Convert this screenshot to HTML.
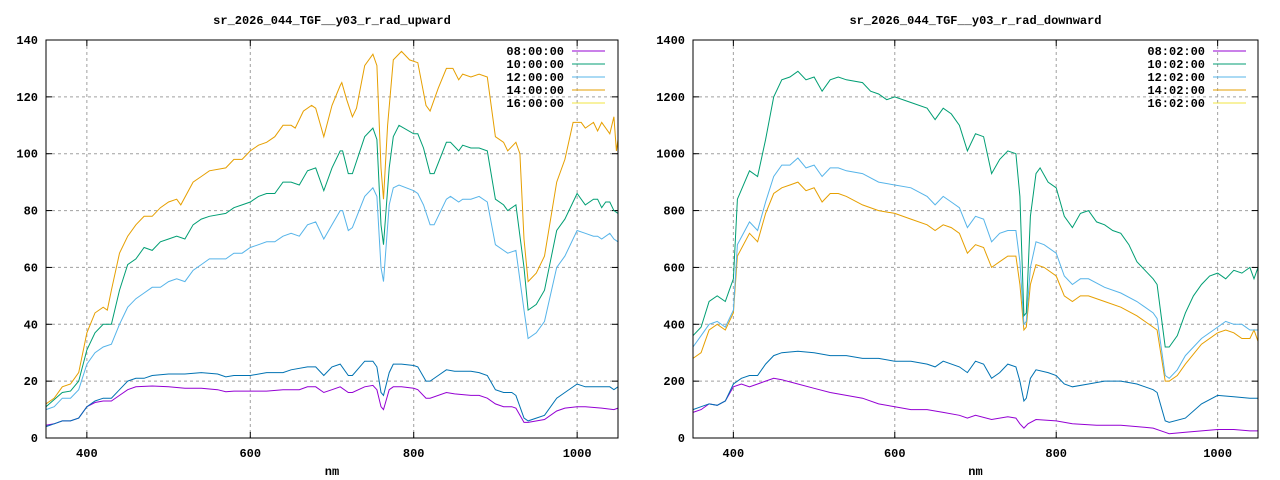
<!DOCTYPE html>
<html><head><meta charset="utf-8"><style>
body{margin:0;background:#fff}
svg{display:block}
text{font-family:"Liberation Mono","DejaVu Sans Mono",monospace;font-size:12px;font-weight:bold;fill:#000}
</style></head><body>
<svg id="s" width="1280" height="480" xmlns="http://www.w3.org/2000/svg"></svg>
<script>
const NS="http://www.w3.org/2000/svg";const S=document.getElementById('s');
function el(t,a,txt){const e=document.createElementNS(NS,t);for(const k in a)e.setAttribute(k,a[k]);if(txt!=null)e.textContent=txt;S.appendChild(e);return e;}
function P(str){const v=str.trim().split(/[\s,]+/).map(Number);const r=[];for(let i=0;i<v.length;i+=2)r.push([v[i],v[i+1]]);return r;}
function plot(o){
 const x0=o.x0,x1=o.x1,y0=40,y1=438;
 const X=n=>x0+(n-350)/700*(x1-x0), Y=v=>y1-v/o.ymax*(y1-y0);
 for(let v=o.ystep;v<o.ymax;v+=o.ystep)el('line',{x1:x0,x2:x1,y1:Y(v),y2:Y(v),stroke:'#a0a0a0','stroke-dasharray':'3,3','stroke-width':1});
 for(const n of [400,600,800,1000])el('line',{x1:X(n),x2:X(n),y1:y0,y2:y1,stroke:'#a0a0a0','stroke-dasharray':'3,3','stroke-width':1});
 for(let v=0;v<=o.ymax;v+=o.ystep){el('line',{x1:x0,x2:x0+6,y1:Y(v),y2:Y(v),stroke:'#000'});el('line',{x1:x1,x2:x1-6,y1:Y(v),y2:Y(v),stroke:'#000'});
  el('text',{x:x0-8,y:Y(v)+4,'text-anchor':'end'},String(v));}
 for(const n of [400,600,800,1000]){el('line',{x1:X(n),x2:X(n),y1:y1,y2:y1-6,stroke:'#000'});el('line',{x1:X(n),x2:X(n),y1:y0,y2:y0+6,stroke:'#000'});
  el('text',{x:X(n),y:y1+19,'text-anchor':'middle'},String(n));}
 for(const s of o.series){const d=P(s.d).map((p,i)=>(i?'L':'M')+X(p[0]).toFixed(1)+','+Y(p[1]).toFixed(1)).join('');
  el('path',{d:d,fill:'none',stroke:s.c,'stroke-width':1});}
 el('rect',{x:x0,y:y0,width:x1-x0,height:y1-y0,fill:'none',stroke:'#000','stroke-width':1});
 el('text',{x:(x0+x1)/2,y:24,'text-anchor':'middle'},o.title);
 el('text',{x:(x0+x1)/2,y:475,'text-anchor':'middle'},'nm');
 o.leg.forEach((l,i)=>{const y=51+i*13;el('text',{x:o.lx,y:y+4,'text-anchor':'end'},l[0]);el('line',{x1:o.lx+8,x2:o.lx+41,y1:y,y2:y,stroke:l[1]});});
}
const C={p:'#9400d3',g:'#009e73',lb:'#56b4e9',o:'#e69f00',y:'#f0e442',b:'#0072b2'};
plot({x0:46,x1:618,ymax:140,ystep:20,title:'sr_2026_044_TGF__y03_r_rad_upward',lx:564,
leg:[['08:00:00',C.p],['10:00:00',C.g],['12:00:00',C.lb],['14:00:00',C.o],['16:00:00',C.y]],
series:[
{c:C.p,d:"350 4.5 360 5 370 6 380 6 390 7 400 11 410 12.5 420 13 430 13 440 15 450 17 460 18 480 18.3 500 18 520 17.5 540 17.5 560 17 570 16.3 580 16.5 620 16.5 640 17 660 17 670 18 680 18 690 16 700 17 710 18 720 16 725 16 740 18 750 18.5 755 17 760 11 763 10 770 17 775 18 785 18 800 17.5 805 17 815 14 820 14 840 16 850 15.5 870 15 880 15 890 14 900 12 910 11 920 11 925 10.5 935 5.5 940 5.5 960 6.5 975 9.5 985 10.5 1000 11 1010 11 1030 10.5 1045 10 1050 10.5"},
{c:C.b,d:"350 4 360 5 370 6 380 6 390 7 400 11 410 13 420 14 430 14 440 17 450 20 460 21 470 21 480 22 500 22.5 520 22.5 540 23 560 22.5 570 21.5 580 22 600 22 620 23 640 23 650 24 670 25 680 25 690 22 700 25 710 26 720 22 725 22 740 27 750 27 755 25 760 16 763 15 770 23 775 26 785 26 800 25.5 805 25 815 20 820 20 830 22 840 24 850 23.5 870 23.5 880 23 890 22 900 17 910 16 920 16 925 15 935 7 940 6 960 8 975 14 985 16 1000 19 1010 18 1040 18 1045 17 1050 18"},
{c:C.lb,d:"350 10 360 11 370 14 380 14 390 17 400 26 410 30 420 32 430 33 440 40 450 46 460 49 470 51 480 53 490 53 500 55 510 56 520 55 530 59 540 61 550 63 570 63 580 65 590 65 600 67 610 68 620 69 630 69 640 71 650 72 660 71 670 75 680 76 690 70 700 75 710 80 713 80 720 73 725 74 740 85 750 88 755 85 760 60 763 55 770 82 775 88 782 89 800 87 805 86 812 82 820 75 825 75 840 84 845 85 855 83 860 84 870 84 880 85 890 83 900 68 910 66 915 65 925 66 935 45 940 35 950 37 960 41 975 60 985 64 1000 73 1010 72 1020 71 1025 71 1030 70 1040 72 1045 70 1050 69"},
{c:C.g,d:"350 11 370 16 380 16.5 390 20 400 31 410 37 420 40 430 40 440 52 450 61 460 63 470 67 480 66 490 69 500 70 510 71 520 70 530 75 540 77 550 78 570 79 580 81 590 82 600 83 610 85 620 86 630 86 640 90 650 90 660 89 670 94 680 95 690 87 700 95 710 101 713 101 720 93 725 93 740 106 750 109 755 105 760 75 763 68 770 95 775 106 782 110 800 107 805 107 812 102 820 93 825 93 840 104 845 104 855 101 860 103 870 102 880 102 890 101 900 84 910 82 915 80 925 82 935 60 940 45 950 47 960 52 975 73 985 77 1000 86 1010 82 1020 84 1025 84 1030 81 1035 83 1040 83 1045 80 1050 79"},
{c:C.o,d:"350 12 360 14 370 18 380 19 390 23 400 37 410 44 420 46 425 45 430 52 440 65 450 71 460 75 470 78 480 78 490 81 500 83 510 84 515 82 530 90 540 92 550 94 570 95 580 98 590 98 600 101 610 103 620 104 630 106 640 110 650 110 655 109 665 115 675 117 680 116 690 106 700 117 710 124 712 125 718 119 725 113 730 116 740 131 750 135 755 131 760 95 763 84 768 110 775 133 785 136 795 133 805 132 815 117 820 115 830 123 840 130 848 130 855 126 860 128 870 127 880 128 890 127 900 106 910 104 915 101 925 104 930 100 935 70 940 55 950 58 960 64 975 90 985 98 995 111 1005 111 1010 109 1020 111 1025 108 1030 111 1040 107 1045 113 1048 101 1050 105"}
]});
plot({x0:693,x1:1258,ymax:1400,ystep:200,title:'sr_2026_044_TGF__y03_r_rad_downward',lx:1205,
leg:[['08:02:00',C.p],['10:02:00',C.g],['12:02:00',C.lb],['14:02:00',C.o],['16:02:00',C.y]],
series:[
{c:C.p,d:"350 90 360 100 370 120 380 115 390 130 400 180 410 190 420 180 430 190 440 200 450 210 460 205 480 190 500 175 520 160 540 150 560 140 580 120 600 110 620 100 640 100 660 90 680 80 690 70 700 80 720 65 740 75 750 70 755 50 760 35 765 50 775 65 800 60 820 50 850 45 880 45 900 40 920 35 935 20 940 15 960 20 1000 30 1020 30 1040 25 1050 25"},
{c:C.b,d:"350 100 360 110 370 120 380 115 390 130 400 190 410 210 420 220 430 220 440 260 450 290 460 300 480 305 500 300 520 290 540 290 560 280 580 280 600 270 620 270 640 260 650 250 660 270 680 250 690 230 700 270 710 260 720 210 730 230 740 260 750 250 755 200 760 130 763 140 768 210 775 240 790 230 800 220 810 190 820 180 840 190 860 200 880 200 900 190 920 170 925 160 935 60 940 55 960 70 980 120 1000 150 1020 145 1040 140 1050 140"},
{c:C.o,d:"350 280 360 300 370 380 380 400 390 380 400 440 405 640 420 720 430 690 440 790 450 860 460 880 470 890 480 900 490 870 500 880 510 830 520 860 530 860 540 850 560 820 580 800 600 790 620 770 640 750 650 730 660 750 670 740 680 720 690 650 700 680 710 670 720 600 730 620 740 640 750 640 755 540 760 380 763 390 768 540 775 610 785 600 800 570 810 500 820 480 830 500 840 500 860 480 880 460 900 430 920 390 925 380 935 200 940 200 950 220 960 260 980 330 1000 370 1010 380 1020 370 1030 350 1040 350 1045 380 1050 340"},
{c:C.lb,d:"350 320 360 360 370 400 380 410 390 390 400 450 405 680 420 760 430 730 440 830 450 920 460 960 470 960 480 985 490 950 500 960 510 920 520 950 530 950 540 940 560 930 580 900 600 890 620 880 640 850 650 820 660 850 670 830 680 810 690 740 700 780 710 770 720 690 730 720 740 730 750 730 755 620 760 400 763 410 768 600 775 690 785 680 800 650 810 570 820 540 830 560 840 560 860 530 880 510 900 480 920 440 925 420 935 220 940 210 950 240 960 290 980 350 1000 390 1010 410 1020 400 1030 400 1040 380 1050 380"},
{c:C.g,d:"350 360 360 390 370 480 380 500 390 480 395 520 400 560 405 840 420 940 430 920 440 1050 450 1200 460 1260 470 1270 480 1290 490 1260 500 1270 510 1220 520 1260 530 1270 540 1260 560 1250 570 1220 580 1210 590 1190 600 1200 620 1180 640 1160 650 1120 660 1160 670 1140 680 1100 690 1010 700 1070 710 1060 720 930 730 980 740 1010 750 1000 755 850 760 430 763 440 768 780 775 930 780 950 790 900 800 880 810 780 820 740 830 790 840 800 850 760 860 750 870 730 880 720 890 680 900 620 910 590 920 560 925 540 935 320 940 320 950 360 960 440 970 500 980 540 990 570 1000 580 1010 560 1020 590 1030 580 1040 600 1045 560 1050 600"}
]});
</script>
</body></html>
